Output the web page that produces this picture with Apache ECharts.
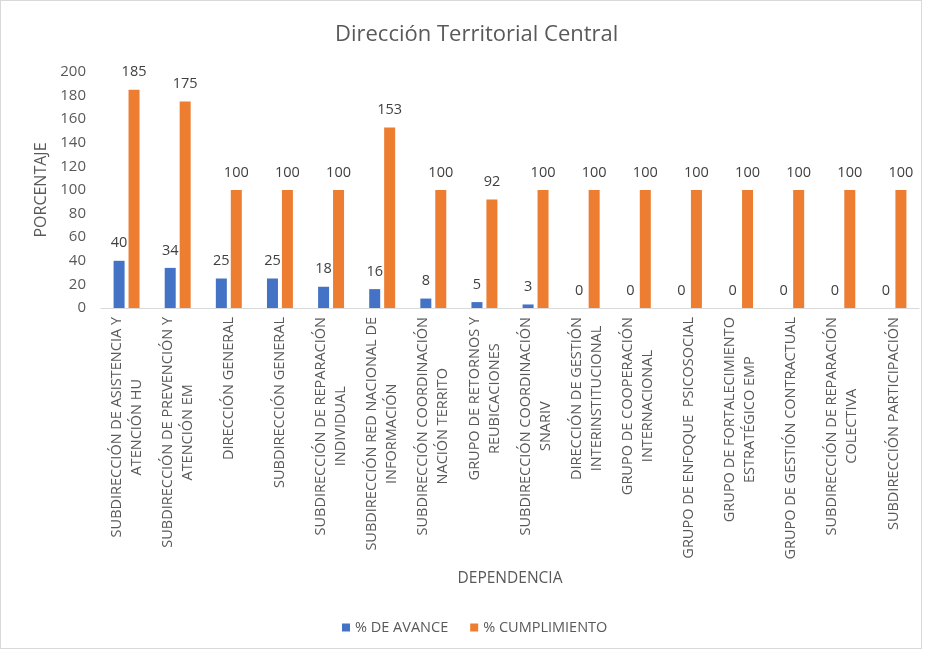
<!DOCTYPE html>
<html>
<head>
<meta charset="utf-8">
<script src="https://cdn.jsdelivr.net/npm/echarts@6/dist/echarts.min.js"></script>
<style>
  html, body { margin: 0; padding: 0; background: #fff; }
  #frame { position: absolute; left: 0; top: 0; width: 920px; height: 647px; border: 1px solid #d9d9d9; }
  #chart { width: 926px; height: 653px; }
</style>
</head>
<body>
<div id="frame"></div>
<div id="chart" style="position:absolute;left:0;top:0;"></div>
<script>
// Dependencias (cada línea del rótulo separada por \n)
const categories = [
  'SUBDIRECCIÓN DE ASISTENCIA Y\nATENCIÓN HU',
  'SUBDIRECCIÓN DE PREVENCIÓN Y\nATENCIÓN EM',
  'DIRECCIÓN GENERAL',
  'SUBDIRECCIÓN GENERAL',
  'SUBDIRECCIÓN DE REPARACIÓN\nINDIVIDUAL',
  'SUBDIRECCIÓN RED NACIONAL DE\nINFORMACIÓN',
  'SUBDIRECCIÓN COORDINACIÓN\nNACIÓN TERRITO',
  'GRUPO DE RETORNOS Y\nREUBICACIONES',
  'SUBDIRECCIÓN COORDINACIÓN\nSNARIV',
  'DIRECCIÓN DE GESTIÓN\nINTERINSTITUCIONAL',
  'GRUPO DE COOPERACIÓN\nINTERNACIONAL',
  'GRUPO DE ENFOQUE  PSICOSOCIAL',
  'GRUPO DE FORTALECIMIENTO\nESTRATÉGICO EMP',
  'GRUPO DE GESTIÓN CONTRACTUAL',
  'SUBDIRECCIÓN DE REPARACIÓN\nCOLECTIVA',
  'SUBDIRECCIÓN PARTICIPACIÓN'
];
const avance = [40, 34, 25, 25, 18, 16, 8, 5, 3, 0, 0, 0, 0, 0, 0, 0];
const cumplimiento = [185, 175, 100, 100, 100, 153, 100, 92, 100, 100, 100, 100, 100, 100, 100, 100];
const yTicks = [0, 20, 40, 60, 80, 100, 120, 140, 160, 180, 200];

const FONT = '"Open Sans", "Noto Sans", sans-serif';
const GREY = '#595959';

const chart = echarts.init(document.getElementById('chart'), null, { renderer: 'canvas' });

const dataLabel = {
  show: true,
  position: 'top',
  distance: 10,
  color: '#404040',
  fontSize: 14.5,
  fontFamily: FONT
};

chart.setOption({
  backgroundColor: 'transparent',
  animation: false,
  textStyle: { fontFamily: FONT },
  title: {
    text: 'Dirección Territorial Central',
    left: 330,
    top: 19,
    textStyle: { fontSize: 22, fontWeight: 'normal', color: GREY, fontFamily: FONT }
  },
  legend: {
    bottom: 13,
    left: 337,
    itemWidth: 8,
    itemHeight: 8,
    itemGap: 22,
    icon: 'rect',
    textStyle: { fontSize: 14.5, color: GREY, fontFamily: FONT },
    data: ['% DE AVANCE', '% CUMPLIMIENTO']
  },
  grid: { left: 101, right: 7, top: 72, bottom: 345, containLabel: false },
  xAxis: {
    type: 'category',
    data: categories,
    name: 'DEPENDENCIA',
    nameLocation: 'middle',
    nameGap: 263,
    nameTextStyle: { fontSize: 15.5, color: GREY, fontFamily: FONT },
    axisLine: { lineStyle: { color: '#d9d9d9' } },
    axisTick: { show: false },
    axisLabel: {
      interval: 0,
      rotate: 90,
      margin: 9,
      fontSize: 14.5,
      color: GREY,
      fontFamily: FONT,
      formatter: function (v) {
        return v.split('\n').map(function (s) { return '{c|' + s + '}'; }).join('\n');
      },
      rich: { c: { align: 'center', fontSize: 14.5, color: GREY, fontFamily: FONT, lineHeight: 20 } }
    }
  },
  yAxis: {
    type: 'value',
    min: yTicks[0],
    max: yTicks[yTicks.length - 1],
    interval: yTicks[1] - yTicks[0],
    name: 'PORCENTAJE',
    nameLocation: 'middle',
    nameGap: 43,
    nameTextStyle: { fontSize: 16, color: GREY, fontFamily: FONT },
    axisLine: { show: false },
    axisTick: { show: false },
    splitLine: { show: false },
    axisLabel: { fontSize: 15, color: GREY, fontFamily: FONT, margin: 15 }
  },
  series: [
    {
      name: '% DE AVANCE',
      type: 'bar',
      data: avance,
      barWidth: 11,
      barGap: '36%',
      itemStyle: { color: '#4472C4' },
      label: dataLabel
    },
    {
      name: '% CUMPLIMIENTO',
      type: 'bar',
      data: cumplimiento,
      barWidth: 11,
      itemStyle: { color: '#ED7D31' },
      label: dataLabel
    }
  ]
});
</script>
</body>
</html>
